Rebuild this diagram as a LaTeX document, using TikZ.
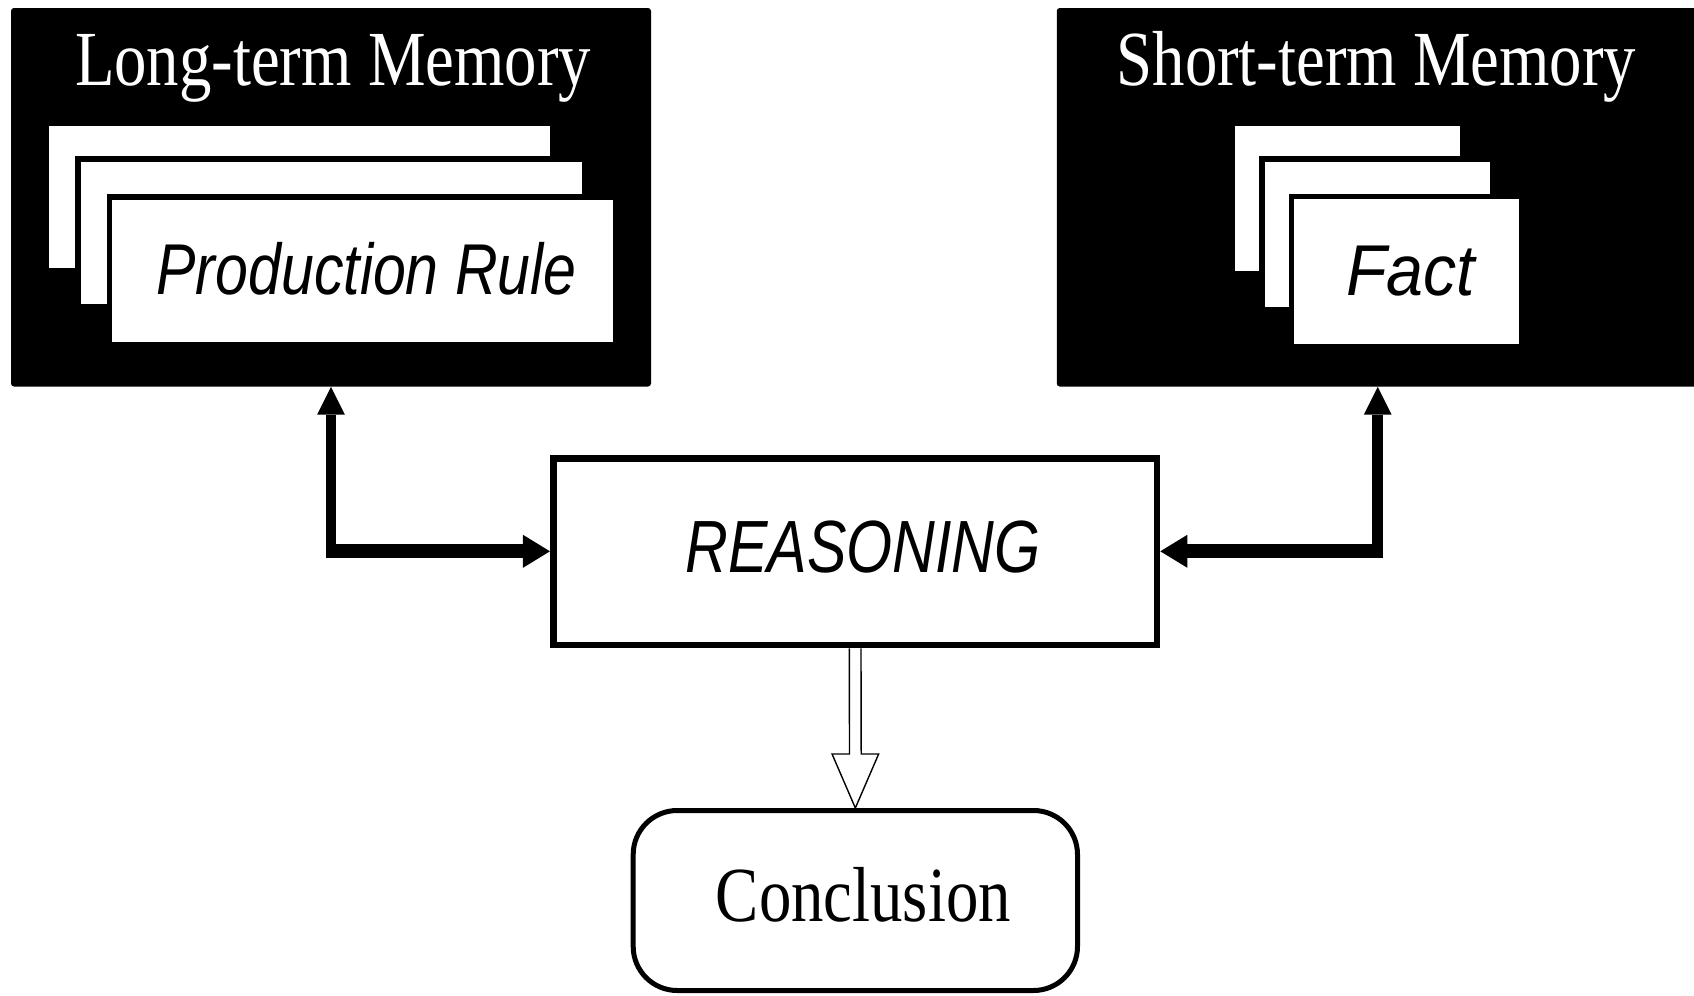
\documentclass[tikz,border=0pt]{standalone}
\usepackage{fontspec}
\setmainfont{Liberation Serif}
\newfontfamily\serifcond[FakeStretch=0.83]{Liberation Serif}
\newfontfamily\sanscond[FakeStretch=0.82]{Liberation Sans}
\newfontfamily\sansnarrow[FakeStretch=0.80]{Liberation Sans}
\newfontfamily\sanswide[FakeStretch=0.92]{Liberation Sans}
\usetikzlibrary{arrows.meta,calc}

\tikzset{
  memory/.style={fill=black, rounded corners=1.5pt, inner sep=0pt,
    minimum width=320pt, minimum height=189.25pt},
  memtitle/.style={text=white, inner sep=0pt, anchor=base,
    font=\serifcond\fontsize{39pt}{39pt}\selectfont},
  rulecard/.style={fill=white, draw=black, line width=2.75pt, inner sep=0pt,
    minimum width=253.25pt, minimum height=73.75pt,
    font=\sanscond\itshape\fontsize{36pt}{36pt}\selectfont,
    text height=25.8pt, text depth=2.2pt},
  factcard/.style={fill=white, draw=black, line width=2.75pt, inner sep=0pt,
    minimum width=115.25pt, minimum height=75.25pt,
    font=\sanswide\itshape\fontsize{36pt}{36pt}\selectfont,
    text height=25.8pt, text depth=2.55pt},
  process/.style={draw=black, fill=white, line width=3.35pt, inner sep=0pt,
    minimum width=301.85pt, minimum height=93.1pt,
    font=\sansnarrow\itshape\fontsize{37pt}{37pt}\selectfont,
    text height=26.5pt, text depth=5.7pt},
  outcome/.style={draw=black, fill=white, line width=2.5pt, rounded corners=22pt,
    inner sep=0pt, minimum width=222.15pt, minimum height=90pt,
    font=\serifcond\fontsize{39pt}{39pt}\selectfont,
    text height=25.8pt, text depth=4.6pt},
  vlink/.style={line width=5.25pt,
    -{Triangle[length=13.85pt, width=13.85pt, line width=0pt]}},
  hlink/.style={line width=7pt,
    -{Triangle[length=13.5pt, width=16.5pt, line width=0pt]}},
  hollow/.style={line width=0.7pt, line join=miter},
}

\begin{document}
\begin{tikzpicture}[x=0.5pt, y=-0.5pt]
  \useasboundingbox (0,0) rectangle (1694,996);
  \fill[white] (0,0) rectangle (1694,996);

  % memory stores
  \node[memory] (ltm) at (331,197.25) {};
  \node[memory] (stm) at (1376.75,197.25) {};
  \node[memtitle] (ltmtitle) at (333,85.5) {Long-term Memory};
  \node[memtitle] (stmtitle) at (1376.5,85.5) {Short-term Memory};

  % stacked production rules
  \node[rulecard] (rule1) at (299.7,197.1) {};
  \node[rulecard] (rule2) at (331.1,232.9) {};
  \node[rulecard] (rule3) at (362.6,270.6) {\hspace*{4pt}Production Rule};

  % stacked facts
  \node[factcard] (fact1) at (1347.5,198.1) {};
  \node[factcard] (fact2) at (1377.1,234) {};
  \node[factcard] (fact3) at (1406.6,271.75) {\hspace*{4pt}Fact};

  % inference engine and result
  \node[process] (reason) at (855.15,551.9) {\hspace*{8pt}REASONING};
  \node[outcome] (concl) at (855.35,900.5) {\hspace*{8pt}Conclusion};

  % two-way links between memories and reasoning
  \coordinate (lfoot) at (331,558.3);
  \coordinate (lbend) at (326,551.3);
  \coordinate (rfoot) at (1377.7,558.3);
  \coordinate (rbend) at (1382.7,551.3);
  \draw[vlink] (lfoot) -- (lfoot |- ltm.south);
  \draw[hlink] (lbend) -- (lbend -| reason.west);
  \draw[vlink] (rfoot) -- (rfoot |- stm.south);
  \draw[hlink] (rbend) -- (rbend -| reason.east);

  % hollow double-shaft arrow to the conclusion
  \draw[hollow] ($(reason.south)+(-5.85,0)$)
    -- ($(concl.north)+(-5.85,-54)$) -- ($(concl.north)+(-23.3,-54)$)
    -- (concl.north)
    -- ($(concl.north)+(23.3,-54)$) -- ($(concl.north)+(5.85,-54)$)
    -- ($(reason.south)+(5.85,0)$);
\end{tikzpicture}
\end{document}
